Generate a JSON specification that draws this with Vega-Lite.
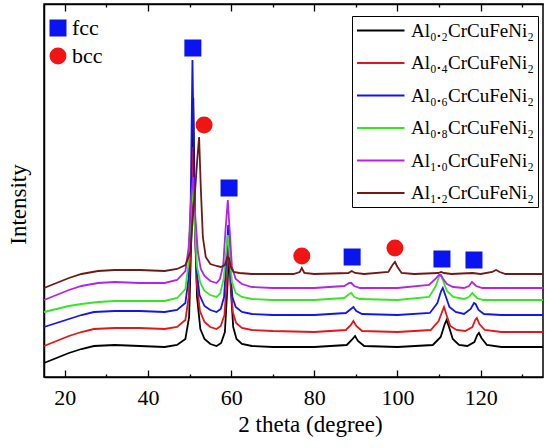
{
  "$schema": "https://vega.github.io/schema/vega-lite/v6.json",
  "width": 499,
  "height": 373,
  "autosize": {"type": "none"},
  "padding": {"left": 44, "top": 4, "right": 7, "bottom": 71},
  "config": {
    "font": "Liberation Serif",
    "view": {"stroke": "black", "strokeWidth": 1.5},
    "axis": {"grid": false, "zindex": 1, "ticks": true, "domainColor": "black", "domainWidth": 1.5, "tickColor": "black", "tickWidth": 1.3}
  },
  "datasets": {
    "xrd": [
      {"sample": "Al₀.₂CrCuFeNi₂", "theta": 15, "counts": 14},
      {"sample": "Al₀.₂CrCuFeNi₂", "theta": 18, "counts": 19},
      {"sample": "Al₀.₂CrCuFeNi₂", "theta": 21, "counts": 24},
      {"sample": "Al₀.₂CrCuFeNi₂", "theta": 24, "counts": 28},
      {"sample": "Al₀.₂CrCuFeNi₂", "theta": 27, "counts": 31},
      {"sample": "Al₀.₂CrCuFeNi₂", "theta": 32, "counts": 32},
      {"sample": "Al₀.₂CrCuFeNi₂", "theta": 38, "counts": 31},
      {"sample": "Al₀.₂CrCuFeNi₂", "theta": 44, "counts": 30},
      {"sample": "Al₀.₂CrCuFeNi₂", "theta": 47, "counts": 32},
      {"sample": "Al₀.₂CrCuFeNi₂", "theta": 49, "counts": 38},
      {"sample": "Al₀.₂CrCuFeNi₂", "theta": 49.9, "counts": 60},
      {"sample": "Al₀.₂CrCuFeNi₂", "theta": 50.5, "counts": 150},
      {"sample": "Al₀.₂CrCuFeNi₂", "theta": 50.9, "counts": 279},
      {"sample": "Al₀.₂CrCuFeNi₂", "theta": 51.3, "counts": 160},
      {"sample": "Al₀.₂CrCuFeNi₂", "theta": 51.8, "counts": 80},
      {"sample": "Al₀.₂CrCuFeNi₂", "theta": 52.6, "counts": 48},
      {"sample": "Al₀.₂CrCuFeNi₂", "theta": 53.6, "counts": 38},
      {"sample": "Al₀.₂CrCuFeNi₂", "theta": 55, "counts": 33},
      {"sample": "Al₀.₂CrCuFeNi₂", "theta": 56.5, "counts": 31},
      {"sample": "Al₀.₂CrCuFeNi₂", "theta": 57.6, "counts": 34},
      {"sample": "Al₀.₂CrCuFeNi₂", "theta": 58.5, "counts": 45},
      {"sample": "Al₀.₂CrCuFeNi₂", "theta": 59.1, "counts": 90},
      {"sample": "Al₀.₂CrCuFeNi₂", "theta": 59.5, "counts": 127},
      {"sample": "Al₀.₂CrCuFeNi₂", "theta": 59.9, "counts": 90},
      {"sample": "Al₀.₂CrCuFeNi₂", "theta": 60.5, "counts": 50},
      {"sample": "Al₀.₂CrCuFeNi₂", "theta": 61.3, "counts": 38},
      {"sample": "Al₀.₂CrCuFeNi₂", "theta": 62.6, "counts": 33},
      {"sample": "Al₀.₂CrCuFeNi₂", "theta": 65, "counts": 31},
      {"sample": "Al₀.₂CrCuFeNi₂", "theta": 70, "counts": 30},
      {"sample": "Al₀.₂CrCuFeNi₂", "theta": 80, "counts": 30},
      {"sample": "Al₀.₂CrCuFeNi₂", "theta": 87.8, "counts": 32},
      {"sample": "Al₀.₂CrCuFeNi₂", "theta": 89, "counts": 37},
      {"sample": "Al₀.₂CrCuFeNi₂", "theta": 89.8, "counts": 41},
      {"sample": "Al₀.₂CrCuFeNi₂", "theta": 90.5, "counts": 36},
      {"sample": "Al₀.₂CrCuFeNi₂", "theta": 92, "counts": 31},
      {"sample": "Al₀.₂CrCuFeNi₂", "theta": 100, "counts": 30},
      {"sample": "Al₀.₂CrCuFeNi₂", "theta": 108.5, "counts": 32},
      {"sample": "Al₀.₂CrCuFeNi₂", "theta": 110.4, "counts": 40},
      {"sample": "Al₀.₂CrCuFeNi₂", "theta": 111.3, "counts": 52},
      {"sample": "Al₀.₂CrCuFeNi₂", "theta": 111.8, "counts": 57},
      {"sample": "Al₀.₂CrCuFeNi₂", "theta": 112.4, "counts": 50},
      {"sample": "Al₀.₂CrCuFeNi₂", "theta": 113.3, "counts": 38},
      {"sample": "Al₀.₂CrCuFeNi₂", "theta": 114.8, "counts": 32},
      {"sample": "Al₀.₂CrCuFeNi₂", "theta": 116.8, "counts": 31},
      {"sample": "Al₀.₂CrCuFeNi₂", "theta": 118.5, "counts": 35},
      {"sample": "Al₀.₂CrCuFeNi₂", "theta": 119.2, "counts": 42},
      {"sample": "Al₀.₂CrCuFeNi₂", "theta": 119.6, "counts": 44},
      {"sample": "Al₀.₂CrCuFeNi₂", "theta": 120.2, "counts": 39},
      {"sample": "Al₀.₂CrCuFeNi₂", "theta": 121.5, "counts": 32},
      {"sample": "Al₀.₂CrCuFeNi₂", "theta": 125, "counts": 30},
      {"sample": "Al₀.₂CrCuFeNi₂", "theta": 135, "counts": 30},

      {"sample": "Al₀.₄CrCuFeNi₂", "theta": 15, "counts": 31},
      {"sample": "Al₀.₄CrCuFeNi₂", "theta": 18, "counts": 36},
      {"sample": "Al₀.₄CrCuFeNi₂", "theta": 21, "counts": 41},
      {"sample": "Al₀.₄CrCuFeNi₂", "theta": 24, "counts": 45},
      {"sample": "Al₀.₄CrCuFeNi₂", "theta": 27, "counts": 48},
      {"sample": "Al₀.₄CrCuFeNi₂", "theta": 32, "counts": 49},
      {"sample": "Al₀.₄CrCuFeNi₂", "theta": 38, "counts": 49},
      {"sample": "Al₀.₄CrCuFeNi₂", "theta": 44, "counts": 48},
      {"sample": "Al₀.₄CrCuFeNi₂", "theta": 47, "counts": 50},
      {"sample": "Al₀.₄CrCuFeNi₂", "theta": 49, "counts": 57},
      {"sample": "Al₀.₄CrCuFeNi₂", "theta": 49.8, "counts": 80},
      {"sample": "Al₀.₄CrCuFeNi₂", "theta": 50.4, "counts": 150},
      {"sample": "Al₀.₄CrCuFeNi₂", "theta": 50.8, "counts": 230},
      {"sample": "Al₀.₄CrCuFeNi₂", "theta": 51.2, "counts": 160},
      {"sample": "Al₀.₄CrCuFeNi₂", "theta": 51.7, "counts": 95},
      {"sample": "Al₀.₄CrCuFeNi₂", "theta": 52.5, "counts": 66},
      {"sample": "Al₀.₄CrCuFeNi₂", "theta": 53.6, "counts": 55},
      {"sample": "Al₀.₄CrCuFeNi₂", "theta": 55, "counts": 50},
      {"sample": "Al₀.₄CrCuFeNi₂", "theta": 56.5, "counts": 48},
      {"sample": "Al₀.₄CrCuFeNi₂", "theta": 57.5, "counts": 51},
      {"sample": "Al₀.₄CrCuFeNi₂", "theta": 58.4, "counts": 62},
      {"sample": "Al₀.₄CrCuFeNi₂", "theta": 59, "counts": 100},
      {"sample": "Al₀.₄CrCuFeNi₂", "theta": 59.4, "counts": 137},
      {"sample": "Al₀.₄CrCuFeNi₂", "theta": 59.8, "counts": 100},
      {"sample": "Al₀.₄CrCuFeNi₂", "theta": 60.4, "counts": 65},
      {"sample": "Al₀.₄CrCuFeNi₂", "theta": 61.2, "counts": 54},
      {"sample": "Al₀.₄CrCuFeNi₂", "theta": 62.6, "counts": 49},
      {"sample": "Al₀.₄CrCuFeNi₂", "theta": 65, "counts": 47},
      {"sample": "Al₀.₄CrCuFeNi₂", "theta": 70, "counts": 46},
      {"sample": "Al₀.₄CrCuFeNi₂", "theta": 80, "counts": 45},
      {"sample": "Al₀.₄CrCuFeNi₂", "theta": 87.6, "counts": 47},
      {"sample": "Al₀.₄CrCuFeNi₂", "theta": 88.8, "counts": 52},
      {"sample": "Al₀.₄CrCuFeNi₂", "theta": 89.4, "counts": 56},
      {"sample": "Al₀.₄CrCuFeNi₂", "theta": 90.1, "counts": 51},
      {"sample": "Al₀.₄CrCuFeNi₂", "theta": 91.5, "counts": 46},
      {"sample": "Al₀.₄CrCuFeNi₂", "theta": 100, "counts": 45},
      {"sample": "Al₀.₄CrCuFeNi₂", "theta": 108, "counts": 47},
      {"sample": "Al₀.₄CrCuFeNi₂", "theta": 109.9, "counts": 56},
      {"sample": "Al₀.₄CrCuFeNi₂", "theta": 110.8, "counts": 66},
      {"sample": "Al₀.₄CrCuFeNi₂", "theta": 111.2, "counts": 70},
      {"sample": "Al₀.₄CrCuFeNi₂", "theta": 111.8, "counts": 62},
      {"sample": "Al₀.₄CrCuFeNi₂", "theta": 112.7, "counts": 51},
      {"sample": "Al₀.₄CrCuFeNi₂", "theta": 114.2, "counts": 47},
      {"sample": "Al₀.₄CrCuFeNi₂", "theta": 116.3, "counts": 46},
      {"sample": "Al₀.₄CrCuFeNi₂", "theta": 118, "counts": 50},
      {"sample": "Al₀.₄CrCuFeNi₂", "theta": 118.7, "counts": 57},
      {"sample": "Al₀.₄CrCuFeNi₂", "theta": 119.1, "counts": 59},
      {"sample": "Al₀.₄CrCuFeNi₂", "theta": 119.7, "counts": 53},
      {"sample": "Al₀.₄CrCuFeNi₂", "theta": 121, "counts": 47},
      {"sample": "Al₀.₄CrCuFeNi₂", "theta": 125, "counts": 45},
      {"sample": "Al₀.₄CrCuFeNi₂", "theta": 135, "counts": 45},

      {"sample": "Al₀.₆CrCuFeNi₂", "theta": 15, "counts": 50},
      {"sample": "Al₀.₆CrCuFeNi₂", "theta": 18, "counts": 54},
      {"sample": "Al₀.₆CrCuFeNi₂", "theta": 21, "counts": 58},
      {"sample": "Al₀.₆CrCuFeNi₂", "theta": 24, "counts": 62},
      {"sample": "Al₀.₆CrCuFeNi₂", "theta": 27, "counts": 65},
      {"sample": "Al₀.₆CrCuFeNi₂", "theta": 32, "counts": 66},
      {"sample": "Al₀.₆CrCuFeNi₂", "theta": 38, "counts": 66},
      {"sample": "Al₀.₆CrCuFeNi₂", "theta": 44, "counts": 65},
      {"sample": "Al₀.₆CrCuFeNi₂", "theta": 47, "counts": 67},
      {"sample": "Al₀.₆CrCuFeNi₂", "theta": 49, "counts": 74},
      {"sample": "Al₀.₆CrCuFeNi₂", "theta": 49.8, "counts": 100},
      {"sample": "Al₀.₆CrCuFeNi₂", "theta": 50.3, "counts": 180},
      {"sample": "Al₀.₆CrCuFeNi₂", "theta": 50.7, "counts": 317},
      {"sample": "Al₀.₆CrCuFeNi₂", "theta": 51.1, "counts": 200},
      {"sample": "Al₀.₆CrCuFeNi₂", "theta": 51.6, "counts": 110},
      {"sample": "Al₀.₆CrCuFeNi₂", "theta": 52.4, "counts": 82},
      {"sample": "Al₀.₆CrCuFeNi₂", "theta": 53.6, "counts": 71},
      {"sample": "Al₀.₆CrCuFeNi₂", "theta": 55, "counts": 67},
      {"sample": "Al₀.₆CrCuFeNi₂", "theta": 56.5, "counts": 65},
      {"sample": "Al₀.₆CrCuFeNi₂", "theta": 57.5, "counts": 68},
      {"sample": "Al₀.₆CrCuFeNi₂", "theta": 58.3, "counts": 80},
      {"sample": "Al₀.₆CrCuFeNi₂", "theta": 58.9, "counts": 120},
      {"sample": "Al₀.₆CrCuFeNi₂", "theta": 59.3, "counts": 152},
      {"sample": "Al₀.₆CrCuFeNi₂", "theta": 59.7, "counts": 115},
      {"sample": "Al₀.₆CrCuFeNi₂", "theta": 60.3, "counts": 80},
      {"sample": "Al₀.₆CrCuFeNi₂", "theta": 61.1, "counts": 70},
      {"sample": "Al₀.₆CrCuFeNi₂", "theta": 62.6, "counts": 65},
      {"sample": "Al₀.₆CrCuFeNi₂", "theta": 65, "counts": 63},
      {"sample": "Al₀.₆CrCuFeNi₂", "theta": 70, "counts": 62},
      {"sample": "Al₀.₆CrCuFeNi₂", "theta": 80, "counts": 62},
      {"sample": "Al₀.₆CrCuFeNi₂", "theta": 87.6, "counts": 64},
      {"sample": "Al₀.₆CrCuFeNi₂", "theta": 88.8, "counts": 68},
      {"sample": "Al₀.₆CrCuFeNi₂", "theta": 89.4, "counts": 70},
      {"sample": "Al₀.₆CrCuFeNi₂", "theta": 90.1, "counts": 66},
      {"sample": "Al₀.₆CrCuFeNi₂", "theta": 91.5, "counts": 63},
      {"sample": "Al₀.₆CrCuFeNi₂", "theta": 100, "counts": 62},
      {"sample": "Al₀.₆CrCuFeNi₂", "theta": 107.8, "counts": 64},
      {"sample": "Al₀.₆CrCuFeNi₂", "theta": 109.6, "counts": 74},
      {"sample": "Al₀.₆CrCuFeNi₂", "theta": 110.5, "counts": 86},
      {"sample": "Al₀.₆CrCuFeNi₂", "theta": 110.9, "counts": 89},
      {"sample": "Al₀.₆CrCuFeNi₂", "theta": 111.5, "counts": 82},
      {"sample": "Al₀.₆CrCuFeNi₂", "theta": 112.5, "counts": 70},
      {"sample": "Al₀.₆CrCuFeNi₂", "theta": 114, "counts": 65},
      {"sample": "Al₀.₆CrCuFeNi₂", "theta": 116, "counts": 63},
      {"sample": "Al₀.₆CrCuFeNi₂", "theta": 117.6, "counts": 68},
      {"sample": "Al₀.₆CrCuFeNi₂", "theta": 118.4, "counts": 74},
      {"sample": "Al₀.₆CrCuFeNi₂", "theta": 118.8, "counts": 73},
      {"sample": "Al₀.₆CrCuFeNi₂", "theta": 119.5, "counts": 67},
      {"sample": "Al₀.₆CrCuFeNi₂", "theta": 120.8, "counts": 63},
      {"sample": "Al₀.₆CrCuFeNi₂", "theta": 125, "counts": 62},
      {"sample": "Al₀.₆CrCuFeNi₂", "theta": 135, "counts": 62},

      {"sample": "Al₀.₈CrCuFeNi₂", "theta": 15, "counts": 65},
      {"sample": "Al₀.₈CrCuFeNi₂", "theta": 18, "counts": 68},
      {"sample": "Al₀.₈CrCuFeNi₂", "theta": 21, "counts": 71},
      {"sample": "Al₀.₈CrCuFeNi₂", "theta": 24, "counts": 73},
      {"sample": "Al₀.₈CrCuFeNi₂", "theta": 28, "counts": 75},
      {"sample": "Al₀.₈CrCuFeNi₂", "theta": 32, "counts": 76},
      {"sample": "Al₀.₈CrCuFeNi₂", "theta": 38, "counts": 76},
      {"sample": "Al₀.₈CrCuFeNi₂", "theta": 44, "counts": 76},
      {"sample": "Al₀.₈CrCuFeNi₂", "theta": 47, "counts": 79},
      {"sample": "Al₀.₈CrCuFeNi₂", "theta": 49, "counts": 88},
      {"sample": "Al₀.₈CrCuFeNi₂", "theta": 49.8, "counts": 115},
      {"sample": "Al₀.₈CrCuFeNi₂", "theta": 50.3, "counts": 165},
      {"sample": "Al₀.₈CrCuFeNi₂", "theta": 50.8, "counts": 190},
      {"sample": "Al₀.₈CrCuFeNi₂", "theta": 51.3, "counts": 150},
      {"sample": "Al₀.₈CrCuFeNi₂", "theta": 51.8, "counts": 110},
      {"sample": "Al₀.₈CrCuFeNi₂", "theta": 52.6, "counts": 94},
      {"sample": "Al₀.₈CrCuFeNi₂", "theta": 53.6, "counts": 86},
      {"sample": "Al₀.₈CrCuFeNi₂", "theta": 55, "counts": 82},
      {"sample": "Al₀.₈CrCuFeNi₂", "theta": 56.5, "counts": 80},
      {"sample": "Al₀.₈CrCuFeNi₂", "theta": 57.4, "counts": 84},
      {"sample": "Al₀.₈CrCuFeNi₂", "theta": 58.2, "counts": 98},
      {"sample": "Al₀.₈CrCuFeNi₂", "theta": 58.8, "counts": 125},
      {"sample": "Al₀.₈CrCuFeNi₂", "theta": 59.2, "counts": 142},
      {"sample": "Al₀.₈CrCuFeNi₂", "theta": 59.6, "counts": 125},
      {"sample": "Al₀.₈CrCuFeNi₂", "theta": 60.2, "counts": 95},
      {"sample": "Al₀.₈CrCuFeNi₂", "theta": 61.1, "counts": 84},
      {"sample": "Al₀.₈CrCuFeNi₂", "theta": 62.6, "counts": 80},
      {"sample": "Al₀.₈CrCuFeNi₂", "theta": 65, "counts": 78},
      {"sample": "Al₀.₈CrCuFeNi₂", "theta": 70, "counts": 77},
      {"sample": "Al₀.₈CrCuFeNi₂", "theta": 80, "counts": 77},
      {"sample": "Al₀.₈CrCuFeNi₂", "theta": 87.2, "counts": 79},
      {"sample": "Al₀.₈CrCuFeNi₂", "theta": 88.4, "counts": 83},
      {"sample": "Al₀.₈CrCuFeNi₂", "theta": 88.9, "counts": 84},
      {"sample": "Al₀.₈CrCuFeNi₂", "theta": 89.6, "counts": 80},
      {"sample": "Al₀.₈CrCuFeNi₂", "theta": 91, "counts": 78},
      {"sample": "Al₀.₈CrCuFeNi₂", "theta": 100, "counts": 77},
      {"sample": "Al₀.₈CrCuFeNi₂", "theta": 107.6, "counts": 80},
      {"sample": "Al₀.₈CrCuFeNi₂", "theta": 109.1, "counts": 90},
      {"sample": "Al₀.₈CrCuFeNi₂", "theta": 110, "counts": 100},
      {"sample": "Al₀.₈CrCuFeNi₂", "theta": 110.4, "counts": 102},
      {"sample": "Al₀.₈CrCuFeNi₂", "theta": 111, "counts": 96},
      {"sample": "Al₀.₈CrCuFeNi₂", "theta": 111.9, "counts": 86},
      {"sample": "Al₀.₈CrCuFeNi₂", "theta": 113.4, "counts": 80},
      {"sample": "Al₀.₈CrCuFeNi₂", "theta": 116, "counts": 78},
      {"sample": "Al₀.₈CrCuFeNi₂", "theta": 117.2, "counts": 80},
      {"sample": "Al₀.₈CrCuFeNi₂", "theta": 118, "counts": 84},
      {"sample": "Al₀.₈CrCuFeNi₂", "theta": 118.4, "counts": 82},
      {"sample": "Al₀.₈CrCuFeNi₂", "theta": 119.1, "counts": 79},
      {"sample": "Al₀.₈CrCuFeNi₂", "theta": 120.6, "counts": 77},
      {"sample": "Al₀.₈CrCuFeNi₂", "theta": 125, "counts": 77},
      {"sample": "Al₀.₈CrCuFeNi₂", "theta": 135, "counts": 77},

      {"sample": "Al₁.₀CrCuFeNi₂", "theta": 15, "counts": 77},
      {"sample": "Al₁.₀CrCuFeNi₂", "theta": 18, "counts": 82},
      {"sample": "Al₁.₀CrCuFeNi₂", "theta": 21, "counts": 87},
      {"sample": "Al₁.₀CrCuFeNi₂", "theta": 24, "counts": 91},
      {"sample": "Al₁.₀CrCuFeNi₂", "theta": 28, "counts": 94},
      {"sample": "Al₁.₀CrCuFeNi₂", "theta": 32, "counts": 95},
      {"sample": "Al₁.₀CrCuFeNi₂", "theta": 38, "counts": 94},
      {"sample": "Al₁.₀CrCuFeNi₂", "theta": 44, "counts": 94},
      {"sample": "Al₁.₀CrCuFeNi₂", "theta": 47, "counts": 97},
      {"sample": "Al₁.₀CrCuFeNi₂", "theta": 49, "counts": 106},
      {"sample": "Al₁.₀CrCuFeNi₂", "theta": 49.8, "counts": 130},
      {"sample": "Al₁.₀CrCuFeNi₂", "theta": 50.4, "counts": 180},
      {"sample": "Al₁.₀CrCuFeNi₂", "theta": 50.9, "counts": 200},
      {"sample": "Al₁.₀CrCuFeNi₂", "theta": 51.4, "counts": 160},
      {"sample": "Al₁.₀CrCuFeNi₂", "theta": 52, "counts": 125},
      {"sample": "Al₁.₀CrCuFeNi₂", "theta": 52.7, "counts": 108},
      {"sample": "Al₁.₀CrCuFeNi₂", "theta": 53.6, "counts": 101},
      {"sample": "Al₁.₀CrCuFeNi₂", "theta": 55, "counts": 96},
      {"sample": "Al₁.₀CrCuFeNi₂", "theta": 56.5, "counts": 94},
      {"sample": "Al₁.₀CrCuFeNi₂", "theta": 57.3, "counts": 98},
      {"sample": "Al₁.₀CrCuFeNi₂", "theta": 58.1, "counts": 112},
      {"sample": "Al₁.₀CrCuFeNi₂", "theta": 58.7, "counts": 150},
      {"sample": "Al₁.₀CrCuFeNi₂", "theta": 59.2, "counts": 177},
      {"sample": "Al₁.₀CrCuFeNi₂", "theta": 59.6, "counts": 150},
      {"sample": "Al₁.₀CrCuFeNi₂", "theta": 60.2, "counts": 110},
      {"sample": "Al₁.₀CrCuFeNi₂", "theta": 61.1, "counts": 98},
      {"sample": "Al₁.₀CrCuFeNi₂", "theta": 62.6, "counts": 93},
      {"sample": "Al₁.₀CrCuFeNi₂", "theta": 65, "counts": 90},
      {"sample": "Al₁.₀CrCuFeNi₂", "theta": 70, "counts": 89},
      {"sample": "Al₁.₀CrCuFeNi₂", "theta": 80, "counts": 89},
      {"sample": "Al₁.₀CrCuFeNi₂", "theta": 87.2, "counts": 91},
      {"sample": "Al₁.₀CrCuFeNi₂", "theta": 88.4, "counts": 94},
      {"sample": "Al₁.₀CrCuFeNi₂", "theta": 88.9, "counts": 94},
      {"sample": "Al₁.₀CrCuFeNi₂", "theta": 89.6, "counts": 91},
      {"sample": "Al₁.₀CrCuFeNi₂", "theta": 91, "counts": 89},
      {"sample": "Al₁.₀CrCuFeNi₂", "theta": 100, "counts": 89},
      {"sample": "Al₁.₀CrCuFeNi₂", "theta": 107.6, "counts": 92},
      {"sample": "Al₁.₀CrCuFeNi₂", "theta": 109.1, "counts": 98},
      {"sample": "Al₁.₀CrCuFeNi₂", "theta": 110, "counts": 102},
      {"sample": "Al₁.₀CrCuFeNi₂", "theta": 110.4, "counts": 102},
      {"sample": "Al₁.₀CrCuFeNi₂", "theta": 111, "counts": 98},
      {"sample": "Al₁.₀CrCuFeNi₂", "theta": 111.9, "counts": 93},
      {"sample": "Al₁.₀CrCuFeNi₂", "theta": 113.4, "counts": 90},
      {"sample": "Al₁.₀CrCuFeNi₂", "theta": 116, "counts": 89},
      {"sample": "Al₁.₀CrCuFeNi₂", "theta": 117.2, "counts": 91},
      {"sample": "Al₁.₀CrCuFeNi₂", "theta": 117.9, "counts": 95},
      {"sample": "Al₁.₀CrCuFeNi₂", "theta": 118.2, "counts": 94},
      {"sample": "Al₁.₀CrCuFeNi₂", "theta": 118.9, "counts": 91},
      {"sample": "Al₁.₀CrCuFeNi₂", "theta": 120.4, "counts": 89},
      {"sample": "Al₁.₀CrCuFeNi₂", "theta": 125, "counts": 89},
      {"sample": "Al₁.₀CrCuFeNi₂", "theta": 135, "counts": 89},

      {"sample": "Al₁.₂CrCuFeNi₂", "theta": 15, "counts": 89},
      {"sample": "Al₁.₂CrCuFeNi₂", "theta": 18, "counts": 94},
      {"sample": "Al₁.₂CrCuFeNi₂", "theta": 21, "counts": 99},
      {"sample": "Al₁.₂CrCuFeNi₂", "theta": 24, "counts": 103},
      {"sample": "Al₁.₂CrCuFeNi₂", "theta": 28, "counts": 106},
      {"sample": "Al₁.₂CrCuFeNi₂", "theta": 32, "counts": 107},
      {"sample": "Al₁.₂CrCuFeNi₂", "theta": 38, "counts": 107},
      {"sample": "Al₁.₂CrCuFeNi₂", "theta": 44, "counts": 106},
      {"sample": "Al₁.₂CrCuFeNi₂", "theta": 47, "counts": 108},
      {"sample": "Al₁.₂CrCuFeNi₂", "theta": 49, "counts": 112},
      {"sample": "Al₁.₂CrCuFeNi₂", "theta": 50.2, "counts": 125},
      {"sample": "Al₁.₂CrCuFeNi₂", "theta": 50.8, "counts": 160},
      {"sample": "Al₁.₂CrCuFeNi₂", "theta": 51.4, "counts": 190},
      {"sample": "Al₁.₂CrCuFeNi₂", "theta": 51.9, "counts": 220},
      {"sample": "Al₁.₂CrCuFeNi₂", "theta": 52.3, "counts": 240},
      {"sample": "Al₁.₂CrCuFeNi₂", "theta": 52.7, "counts": 190},
      {"sample": "Al₁.₂CrCuFeNi₂", "theta": 53.2, "counts": 140},
      {"sample": "Al₁.₂CrCuFeNi₂", "theta": 53.9, "counts": 120},
      {"sample": "Al₁.₂CrCuFeNi₂", "theta": 55, "counts": 113},
      {"sample": "Al₁.₂CrCuFeNi₂", "theta": 56.5, "counts": 111},
      {"sample": "Al₁.₂CrCuFeNi₂", "theta": 57.5, "counts": 110},
      {"sample": "Al₁.₂CrCuFeNi₂", "theta": 58.5, "counts": 112},
      {"sample": "Al₁.₂CrCuFeNi₂", "theta": 59.1, "counts": 120},
      {"sample": "Al₁.₂CrCuFeNi₂", "theta": 59.5, "counts": 119},
      {"sample": "Al₁.₂CrCuFeNi₂", "theta": 59.9, "counts": 110},
      {"sample": "Al₁.₂CrCuFeNi₂", "theta": 60.6, "counts": 105},
      {"sample": "Al₁.₂CrCuFeNi₂", "theta": 62, "counts": 104},
      {"sample": "Al₁.₂CrCuFeNi₂", "theta": 65, "counts": 103},
      {"sample": "Al₁.₂CrCuFeNi₂", "theta": 75, "counts": 103},
      {"sample": "Al₁.₂CrCuFeNi₂", "theta": 76.5, "counts": 105},
      {"sample": "Al₁.₂CrCuFeNi₂", "theta": 77, "counts": 109},
      {"sample": "Al₁.₂CrCuFeNi₂", "theta": 77.6, "counts": 104},
      {"sample": "Al₁.₂CrCuFeNi₂", "theta": 80, "counts": 103},
      {"sample": "Al₁.₂CrCuFeNi₂", "theta": 88.2, "counts": 104},
      {"sample": "Al₁.₂CrCuFeNi₂", "theta": 89, "counts": 106},
      {"sample": "Al₁.₂CrCuFeNi₂", "theta": 89.8, "counts": 104},
      {"sample": "Al₁.₂CrCuFeNi₂", "theta": 92, "counts": 103},
      {"sample": "Al₁.₂CrCuFeNi₂", "theta": 97.8, "counts": 105},
      {"sample": "Al₁.₂CrCuFeNi₂", "theta": 98.8, "counts": 112},
      {"sample": "Al₁.₂CrCuFeNi₂", "theta": 99.4, "counts": 115},
      {"sample": "Al₁.₂CrCuFeNi₂", "theta": 100, "counts": 110},
      {"sample": "Al₁.₂CrCuFeNi₂", "theta": 101, "counts": 104},
      {"sample": "Al₁.₂CrCuFeNi₂", "theta": 104, "counts": 103},
      {"sample": "Al₁.₂CrCuFeNi₂", "theta": 109.8, "counts": 104},
      {"sample": "Al₁.₂CrCuFeNi₂", "theta": 110.5, "counts": 105},
      {"sample": "Al₁.₂CrCuFeNi₂", "theta": 111.2, "counts": 104},
      {"sample": "Al₁.₂CrCuFeNi₂", "theta": 113, "counts": 103},
      {"sample": "Al₁.₂CrCuFeNi₂", "theta": 118, "counts": 104},
      {"sample": "Al₁.₂CrCuFeNi₂", "theta": 120, "counts": 103},
      {"sample": "Al₁.₂CrCuFeNi₂", "theta": 122.8, "counts": 105},
      {"sample": "Al₁.₂CrCuFeNi₂", "theta": 123.7, "counts": 107},
      {"sample": "Al₁.₂CrCuFeNi₂", "theta": 124.6, "counts": 105},
      {"sample": "Al₁.₂CrCuFeNi₂", "theta": 126, "counts": 103},
      {"sample": "Al₁.₂CrCuFeNi₂", "theta": 135, "counts": 103}
    ],
    "phases": [
      {"phase": "fcc", "theta": 50.8, "counts": 329},
      {"phase": "fcc", "theta": 59.5, "counts": 189},
      {"phase": "fcc", "theta": 89.1, "counts": 120},
      {"phase": "fcc", "theta": 110.7, "counts": 118},
      {"phase": "fcc", "theta": 118.4, "counts": 117},
      {"phase": "bcc", "theta": 53.5, "counts": 252},
      {"phase": "bcc", "theta": 77.0, "counts": 121},
      {"phase": "bcc", "theta": 99.4, "counts": 129}
    ]
  },
  "layer": [
    {
      "data": {"name": "xrd"},
      "mark": {"type": "line", "strokeWidth": 1.8},
      "encoding": {
        "x": {
          "field": "theta",
          "type": "quantitative",
          "scale": {"domain": [15, 135], "nice": false},
          "axis": {
            "orient": "bottom",
            "title": "2 theta (degree)",
            "titleFontSize": 23,
            "titleFontWeight": "normal",
            "titleColor": "black",
            "titleX": 266,
            "titleY": 54,
            "titleBaseline": "alphabetic",
            "values": [20, 30, 40, 50, 60, 70, 80, 90, 100, 110, 120, 130],
            "labelExpr": "datum.value % 20 === 0 ? datum.label : ''",
            "labelFontSize": 22,
            "labelColor": "black",
            "labelPadding": 17,
            "labelFlush": false,
            "labelOverlap": false,
            "tickSize": {"condition": {"test": "datum.value % 20 === 0", "value": -7}, "value": -3}
          }
        },
        "y": {
          "field": "counts",
          "type": "quantitative",
          "scale": {"domain": [0, 373], "nice": false},
          "axis": {
            "title": "Intensity",
            "titleFontSize": 23,
            "titleFontWeight": "normal",
            "titleColor": "black",
            "titlePadding": 14,
            "titleY": 200,
            "labels": false,
            "ticks": false
          }
        },
        "color": {
          "field": "sample",
          "type": "nominal",
          "scale": {
            "domain": ["Al₀.₂CrCuFeNi₂", "Al₀.₄CrCuFeNi₂", "Al₀.₆CrCuFeNi₂", "Al₀.₈CrCuFeNi₂", "Al₁.₀CrCuFeNi₂", "Al₁.₂CrCuFeNi₂"],
            "range": ["#000000", "#e8141a", "#1414f0", "#33e81c", "#b422f0", "#6e1a16"]
          },
          "legend": {
            "title": null,
            "orient": "none",
            "legendX": 308,
            "legendY": 12,
            "symbolType": "M-1,0H4",
            "symbolSize": 361,
            "symbolStrokeWidth": 2,
            "labelOffset": 34,
            "labelFontSize": 19,
            "labelColor": "black",
            "labelLimit": 300,
            "strokeColor": "black",
            "fillColor": "white",
            "padding": 4,
            "rowPadding": 11.5
          }
        }
      }
    },
    {
      "data": {"name": "phases"},
      "mark": {"type": "point", "filled": true, "opacity": 1, "size": 289},
      "encoding": {
        "x": {
          "field": "theta",
          "type": "quantitative",
          "axis": {
            "orient": "top",
            "title": null,
            "values": [20, 30, 40, 50, 60, 70, 80, 90, 100, 110, 120, 130],
            "labels": false,
            "tickSize": {"condition": {"test": "datum.value % 20 === 0", "value": -7}, "value": -3}
          }
        },
        "y": {"field": "counts", "type": "quantitative"},
        "color": {
          "field": "phase",
          "type": "nominal",
          "scale": {"domain": ["fcc", "bcc"], "range": ["#0a14f0", "#f01414"]},
          "legend": {
            "title": null,
            "orient": "none",
            "legendX": 3,
            "legendY": 13,
            "padding": 0,
            "symbolSize": 289,
            "labelFontSize": 22,
            "labelColor": "black",
            "labelOffset": 3,
            "rowPadding": 6
          }
        },
        "shape": {
          "field": "phase",
          "type": "nominal",
          "scale": {"domain": ["fcc", "bcc"], "range": ["square", "circle"]},
          "legend": {
            "title": null,
            "orient": "none",
            "legendX": 3,
            "legendY": 13,
            "padding": 0,
            "symbolSize": 289,
            "labelFontSize": 22,
            "labelColor": "black",
            "labelOffset": 3,
            "rowPadding": 6
          }
        }
      }
    }
  ],
  "resolve": {
    "scale": {"color": "independent", "shape": "independent"},
    "axis": {"x": "independent"}
  }
}
